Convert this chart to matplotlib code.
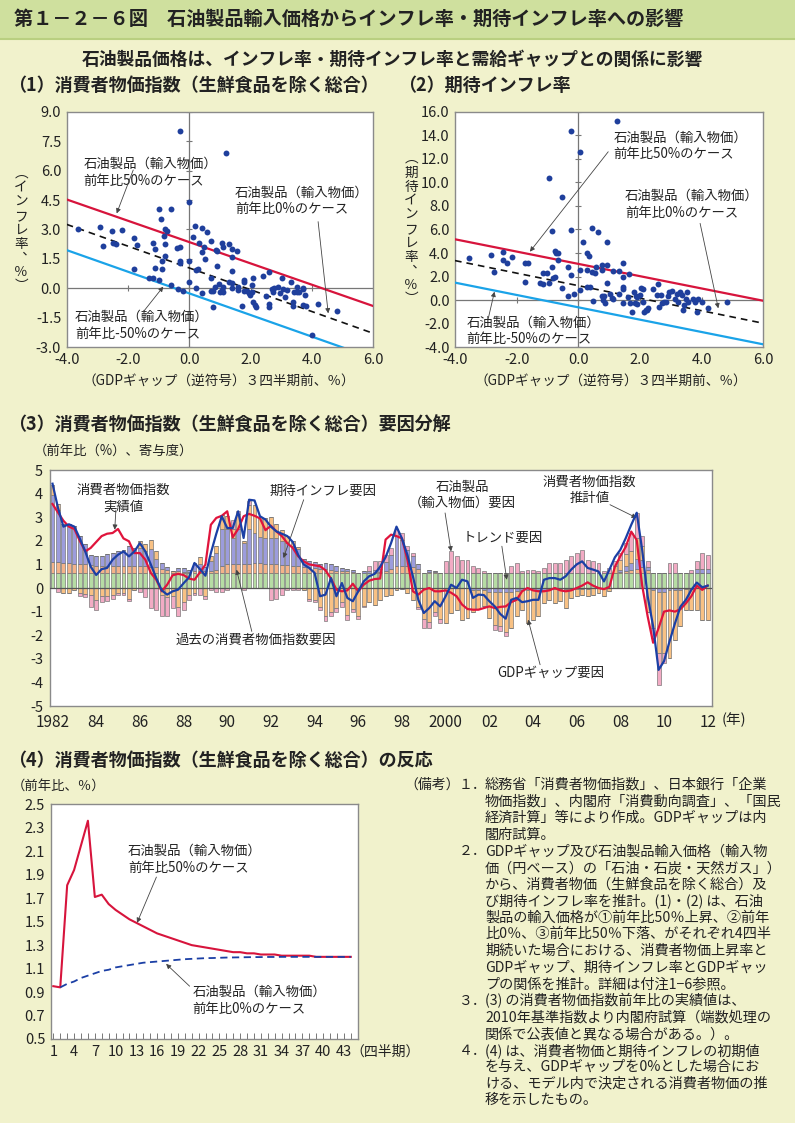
import matplotlib
matplotlib.use('Agg')
import matplotlib.pyplot as plt
import numpy as np
from matplotlib.patches import Rectangle
from matplotlib.lines import Line2D

plt.rcParams['font.family'] = ['Noto Sans CJK JP', 'DejaVu Sans']

# ---------------- DATA ----------------
# Panel 1: CPI inflation vs GDP gap (scatter)
p1_x = [-3.62, -2.91, -2.80, -2.51, -2.50, -2.40, -2.21, -1.80, -1.72, -1.80, -1.30, -1.20, -1.20, -1.11,
        -1.11, -1.00, -0.99, -0.91, -0.90, -0.89, -0.80, -0.82, -0.80, -0.80, -0.72, -0.61, -0.61, -0.41,
        -0.30, -0.30, -0.30, -0.30, -0.38, -0.21, 0.00, -0.01, 0.00, 0.11, 0.18, 0.21, 0.29, 0.21, 0.32,
        0.40, 0.41, 0.40, 0.48, 0.51, 0.59, 0.70, 0.70, 0.70, 0.78, 0.78, 0.86, 0.89, 0.89, 0.84, 0.97,
        1.00, 1.05, 1.08, 1.09, 1.09, 1.09, 1.20, 1.29, 1.30, 1.38, 1.38, 1.40, 1.40, 1.40, 1.57, 1.58,
        1.58, 1.71, 1.79, 1.79, 1.79, 1.87, 1.96, 1.98, 2.05, 2.09, 2.05, 2.09, 2.14, 2.17, 2.39, 2.49,
        2.60, 2.60, 2.60, 2.68, 2.72, 2.76, 2.90, 2.96, 3.01, 3.07, 3.12, 3.17, 3.32, 3.37, 3.39, 3.42,
        3.50, 3.50, 3.58, 3.70, 3.72, 3.72, 3.77, 3.80, 3.99, 4.21, 4.80]
p1_y = [3.01, 3.14, 2.16, 2.94, 2.33, 2.26, 2.97, 2.55, 2.21, 0.99, 0.51, 0.51, 2.33, 2.00,
        1.02, 4.04, 0.43, 3.52, 1.41, 1.00, 3.02, 2.67, 2.24, 1.65, 2.92, 4.03, 0.17, 2.04,
        2.12, 1.41, 1.27, 8.03, -0.05, -0.12, 4.42, 1.41, 0.31, 2.60, 3.19, 0.94, 0.97, 0.04, 2.33,
        3.09, 1.84, -0.25, 2.12, 1.50, 2.85, 2.43, 0.51, -0.13, -0.13, -0.97, 1.95, 1.16, 1.90, 0.05, 0.21,
        -0.17, -0.08, 2.29, 2.12, -0.20, 0.09, 6.88, 2.26, 0.34, 0.26, 0.00, 1.58, 0.88, 2.02, 1.90, 0.05,
        -0.08, -0.90, 0.43, 0.34, -0.13, -0.13, -0.25, -0.34, -0.17, 0.51, 0.17, -0.71, -0.85, -0.97, 0.63, -0.39,
        0.85, -0.80, -0.97, -0.05, -0.20, 0.04, 0.09, -0.25, 0.55, -0.05, -0.46, -0.08, 0.34, -0.71, -0.90, -0.17,
        0.09, -0.20, -0.20, -0.05, -0.85, 0.00, -0.34, -0.90, -2.38, -0.81, -1.15]
p1_line_x = [-4.0, 6.0]
p1_case50 = [4.53, -0.90]
p1_case0 = [3.26, -2.29]
p1_case_m50 = [1.95, -3.56]

# Panel 2: expected inflation vs GDP gap (scatter)
p2_x = [-3.55, -2.83, -2.74, -2.43, -2.43, -2.32, -2.14, -1.73, -1.62, -1.73, -1.24, -1.14, -1.14, -1.03,
        -0.95, -0.95, -0.86, -0.86, -0.83, -0.76, -0.76, -0.72, -0.67, -0.67, -0.54, -0.54, -0.35, -0.35,
        -0.24, -0.24, -0.24, -0.14, 0.05, 0.05, 0.05, 0.16, 0.27, 0.27, 0.27, 0.36, 0.38, 0.45, 0.45, 0.49,
        0.54, 0.56, 0.65, 0.76, 0.76, 0.76, 0.81, 0.84, 0.86, 0.94, 0.94, 0.94, 1.03, 1.08, 1.14, 1.14,
        1.24, 1.33, 1.32, 1.44, 1.44, 1.44, 1.44, 1.46, 1.62, 1.64, 1.68, 1.75, 1.82, 1.84, 1.86, 1.91,
        1.91, 2.00, 2.03, 2.11, 2.11, 2.14, 2.18, 2.24, 2.27, 2.41, 2.54, 2.59, 2.63, 2.67, 2.70, 2.78,
        2.86, 2.92, 2.95, 3.03, 3.14, 3.19, 3.24, 3.30, 3.35, 3.41, 3.44, 3.49, 3.54, 3.57, 3.73, 3.78,
        3.84, 3.89, 4.02, 4.22, 4.83]
p2_y = [3.55, 3.84, 2.42, 4.06, 3.41, 3.19, 3.64, 3.13, 3.13, 1.52, 1.43, 1.38, 2.34, 2.34,
        10.40, 1.43, 5.87, 2.79, 1.91, 4.20, 2.00, 3.98, 3.98, 3.41, 8.73, 1.00, 2.79, 0.36,
        14.39, 5.96, 2.14, 0.53, 12.55, 2.56, 0.87, 4.97, 3.98, 2.56, 1.15, 3.75, 1.15, 6.16, 2.36, -0.04,
        2.28, 2.85, 5.76, 2.99, 2.56, 0.38, 0.04, 0.38, -0.20, 4.97, 2.99, 1.43, 0.53, 0.22, 0.10, 2.48,
        15.24, 2.48, 0.53, 3.13, 2.00, 1.15, 0.92, -0.20, 0.30, 2.22, -0.20, -0.97, 0.67, -0.20, 0.36, 0.30,
        -0.35, 0.44, 1.07, 0.95, -0.12, -1.03, -0.83, -0.83, -0.69, 0.92, 0.44, 1.35, -0.55, 0.44, -0.20, -0.12,
        -0.12, 0.38, 0.67, 0.81, 0.10, 0.53, -0.12, 0.72, 0.44, -0.83, -0.41, 0.10, 0.72, -0.18, 0.10, -0.12,
        -0.97, 0.10, -0.18, -0.69, -0.12]
p2_line_x = [-4.0, 6.0]
p2_case50 = [5.17, -0.05]
p2_case0 = [3.36, -1.96]
p2_case_m50 = [1.49, -3.75]

# Panel 3: CPI factor decomposition, quarterly 1982Q1 - 2012Q1
year_labels = ['1982', '84', '86', '88', '90', '92', '94', '96', '98', '2000', '02', '04', '06', '08', '10', '12']
trend = [0.62, 0.62, 0.62, 0.62,  0.62, 0.62, 0.62, 0.62,  0.62, 0.62, 0.62, 0.62,  0.62, 0.62, 0.62, 0.62,
         0.62, 0.62, 0.62, 0.62,  0.62, 0.62, 0.62, 0.62,  0.62, 0.62, 0.62, 0.62,  0.62, 0.62, 0.62, 0.62,
         0.62, 0.62, 0.62, 0.62,  0.62, 0.62, 0.62, 0.62,  0.62, 0.62, 0.62, 0.62,  0.62, 0.62, 0.62, 0.62,
         0.62, 0.62, 0.62, 0.62,  0.62, 0.62, 0.62, 0.62,  0.62, 0.62, 0.62, 0.62,  0.62, 0.62, 0.62, 0.62,
         0.62, 0.62, 0.62, 0.62,  0.62, 0.62, 0.62, 0.62,  0.62, 0.62, 0.62, 0.62,  0.62, 0.62, 0.62, 0.62,
         0.62, 0.62, 0.62, 0.62,  0.62, 0.62, 0.62, 0.62,  0.62, 0.62, 0.62, 0.62,  0.62, 0.62, 0.62, 0.62,
         0.62, 0.62, 0.62, 0.62,  0.62, 0.62, 0.62, 0.62,  0.62, 0.62, 0.62, 0.62,  0.62, 0.62, 0.62, 0.62,
         0.62, 0.62, 0.62, 0.62,  0.62, 0.62, 0.62, 0.62,  0.62]
past_cpi = [0.50, 0.50, 0.45, 0.45,  0.40, 0.40, 0.38, 0.35,  0.30, 0.30, 0.30, 0.32,  0.32, 0.32, 0.32, 0.32,
            0.30, 0.30, 0.28, 0.25,  0.20, 0.15, 0.10, 0.08,  0.05, 0.06, 0.08, 0.08,  0.10, 0.10, 0.15, 0.30,
            0.40, 0.40, 0.40, 0.40,  0.40, 0.42, 0.42, 0.40,  0.40, 0.38, 0.36, 0.34,  0.32, 0.30, 0.28, 0.25,
            0.22, 0.20, 0.17, 0.15,  0.12, 0.10, 0.08, 0.06,  0.03, 0.03, 0.03, 0.05,  0.05, 0.10, 0.20, 0.30,
            0.30, 0.30, 0.25, 0.20,  0.02, 0.06, 0.05, 0.02,  0.00, 0.00, 0.00, 0.00,  0.00, 0.00, 0.00, 0.00,
            0.00, 0.00, 0.00, 0.00,  0.00, 0.00, 0.00, 0.00,  0.00, 0.00, 0.00, 0.00,  0.00, 0.00, 0.00, 0.00,
            0.00, 0.00, 0.00, 0.00,  0.00, 0.00, 0.00, 0.00,  0.05, 0.10, 0.15, 0.20,  0.25, 0.15, 0.00, 0.00,
            0.00, 0.00, 0.00, 0.00,  0.00, 0.00, 0.00, 0.00,  0.00]
expected = [2.80, 2.20, 1.63, 1.63,  1.60, 1.18, 0.85, 0.43,  0.43, 0.43, 0.53, 0.56,  0.61, 0.66, 0.86, 0.76,
            0.78, 0.63, 0.75, 0.38,  0.23, 0.13, 0.00, 0.15,  0.18, 0.10, 0.35, 0.30,  0.18, 0.43, 0.73, 1.60,
            1.50, 1.10, 1.50, 0.90,  1.50, 1.30, 1.10, 1.10,  1.10, 1.10, 1.00, 0.94,  0.86, 0.73, 0.35, 0.28,
            0.26, 0.18, 0.26, 0.23,  0.21, 0.13, 0.10, 0.10,  0.00, 0.05, 0.05, 0.10,  0.13, 0.38, 0.58, 1.30,
            1.10, 0.70, 0.50, 0.18,  0.00, 0.10, 0.03, 0.00,  0.00, 0.00, 0.00, 0.00,  0.00, -0.10, -0.10, -0.10,
            -0.15, -0.15, -0.15, -0.15,  -0.15, -0.12, -0.10, -0.10,  -0.10, -0.10, -0.08, -0.05,  -0.05, -0.05, -0.05, -0.05,
            -0.03, -0.03, -0.03, -0.02,  0.00, 0.00, 0.00, 0.00,  0.10, 0.20, 0.30, 0.40,  0.30, 0.10, -0.10, -0.15,
            -0.15, -0.10, -0.10, -0.10,  -0.05, -0.05, 0.20, 0.20,  0.20]
gdp_gap = [0.43, 0.23, -0.20, -0.20,  -0.10, -0.20, -0.25, -0.30,  -0.50, -0.35, -0.35, -0.30,  -0.20, -0.20, -0.45, -0.10,
           0.30, 0.30, 0.40, 0.30,  -0.30, -0.40, -0.35, -0.80,  -0.60, -0.30, -0.20, 0.30,  -0.35, 0.20, 0.30, 0.58,
           0.53, 0.38, 0.60, 0.08,  1.00, 1.16, 0.86, 0.83,  0.88, 0.60, 0.47, 0.30,  0.20, 0.10, -0.10, -0.45,
           -0.50, -0.80, -1.20, -1.00,  -0.85, -0.60, -1.15, -0.90,  -1.20, -0.75, -0.60, -0.70,  -0.50, -0.35, -0.30, -0.10,
           -0.05, -0.20, -0.50, -0.80,  -1.30, -1.45, -1.00, -1.30,  -1.48, -1.06, -0.92, -1.34,  -1.27, -0.90, -0.80, -0.68,
           -1.12, -1.40, -1.45, -1.70,  -1.55, -1.08, -0.85, -1.38,  -1.24, -1.10, -0.56, -0.45,  -0.60, -0.52, -0.80, -0.38,
           -0.32, -0.25, -0.30, -0.26,  -0.20, -0.35, -0.14, 0.30,  0.40, 0.50, 0.50, 0.90,  0.60, -1.00, -1.60, -2.60,
           -2.60, -2.87, -2.09, -1.52,  -0.87, -0.87, -0.95, -1.34,  -1.34]
oil = [0.00, -0.15, 0.00, 0.00,  0.00, -0.15, -0.15, -0.50,  -0.45, -0.25, -0.20, -0.15,  -0.10, -0.10, -0.10, 0.00,
       -0.15, -0.40, -0.85, -0.95,  -0.90, -0.80, -0.50, -0.40,  -0.35, -0.20, -0.10, -0.30,  -0.10, -0.10, -0.15, -0.15,
       -0.10, 0.40, 0.13, -0.10,  0.18, 0.00, 0.00, 0.00,  -0.50, -0.45, -0.30, -0.10,  -0.10, -0.10, 0.00, -0.10,
       -0.10, -0.15, -0.20, -0.20,  -0.15, -0.20, -0.20, -0.10,  -0.10, -0.05, 0.25, 0.38,  0.35, 0.30, 0.30, 0.28,
       0.30, 0.15, 0.13, -0.10,  -0.40, -0.25, -0.20, -0.18,  0.51, 0.93, 0.72, 0.58,  0.55, 0.30, 0.23, 0.08,
       0.00, -0.22, -0.24, -0.20,  0.30, 0.44, 0.08, 0.16,  0.16, 0.10, 0.23, 0.44,  0.44, 0.44, 0.58, 0.72,
       0.86, 0.98, 0.58, 0.51,  0.44, 0.08, 0.23, 0.21,  0.31, 0.48, 0.76, 1.06,  0.42, 0.26, -0.42, -1.35,
       -0.43, 0.44, 0.42, 0.00,  0.00, 0.13, 0.31, 0.66,  0.59]
cpi_actual = [3.56, 3.20, 2.85, 2.60,  2.50, 2.00, 1.55, 1.70,  1.95, 2.20, 2.30, 2.33,  2.50, 2.10, 1.98, 1.48,
              1.48, 1.20, 0.64, 0.35,  -0.14, 0.14, 0.54, 0.60,  0.55, 0.40, 0.35, 0.66,  0.99, 2.68, 2.97, 3.06,
              3.25, 2.15, 2.50, 3.04,  3.14, 3.06, 2.95, 2.45,  2.64, 2.40, 2.20, 1.90,  1.70, 1.34, 1.13, 1.00,
              0.96, 0.92, 0.75, 0.40,  -0.07, -0.14, -0.10, 0.18,  -0.14, 0.14, 0.31, 0.38,  0.40, 2.05, 2.26, 2.20,
              2.10, 1.20, -0.14, -0.28,  -0.07, 0.00, -0.14, -0.14,  -0.10, -0.20, -0.35, -0.70,  -0.89, -0.92, -0.92, -0.85,
              -0.78, -0.85, -0.80, -0.78,  -0.60, -0.50, -0.14, 0.00,  -0.10, -0.14, -0.14, -0.10,  0.00, -0.10, -0.14, -0.10,
              0.00, 0.10, 0.24, 0.10,  0.00, -0.05, 0.05, 0.90,  1.35, 1.75, 2.39, 2.03,  0.10, -1.20, -2.32, -1.70,
              -1.00, -0.95, -1.00, -0.90,  -0.65, -0.35, 0.10, -0.08,  0.10]
cpi_estimate = [4.42, 3.40, 2.60, 2.70,  2.60, 2.10, 1.55, 0.90,  0.55, 0.80, 0.85, 1.20,  1.41, 1.55, 1.34, 1.55,
                1.90, 1.55, 1.00, 0.42,  -0.10, -0.28, -0.14, -0.07,  0.20, 0.45, 1.06, 0.80,  0.52, 1.48, 2.30, 3.04,
                2.54, 2.54, 3.25, 2.12,  3.74, 3.71, 3.04, 2.90,  2.60, 2.40, 2.30, 2.20,  1.95, 1.40, 1.00, 0.85,
                0.64, -0.35, -0.28, 0.42,  -0.35, 0.21, -0.42, -0.56,  -0.14, 0.28, 0.50, 0.60,  0.90, 1.30, 1.90, 2.60,
                2.10, 1.40, 0.50, -0.50,  -1.06, -0.85, -0.56, -0.78,  -0.35, 0.14, 0.00, 0.35,  0.28, -0.42, -0.28, -0.30,
                -0.56, -0.78, -1.10, -1.30,  -0.50, -0.42, -0.60, -0.56,  -0.50, -0.50, 0.35, 0.42,  0.42, 0.35, 0.50, 0.78,
                1.00, 1.13, 0.85, 0.78,  0.70, 0.28, 0.78, 1.30,  1.62, 2.12, 2.68, 3.19,  1.61, -0.35, -1.62, -3.47,
                -3.10, -2.27, -1.50, -0.79,  -0.50, -0.08, 0.23, 0.03,  0.10]

# Panel 4: simulated CPI response (quarters 1..44)
p4_quarters = list(range(1, 45))
p4_case50 = [0.95, 0.94, 1.81, 1.94, 2.15, 2.36, 1.71, 1.73, 1.65, 1.60, 1.56, 1.52, 1.49, 1.46, 1.43,
             1.40, 1.38, 1.36, 1.34, 1.32, 1.30, 1.29, 1.28, 1.27, 1.26, 1.25, 1.24, 1.24, 1.23, 1.23,
             1.22, 1.22, 1.22, 1.21, 1.21, 1.21, 1.21, 1.21, 1.20, 1.20, 1.20, 1.20, 1.20, 1.20]
p4_case0_q = list(range(2, 45))
p4_case0 = [0.94, 0.97, 0.99, 1.02, 1.04, 1.06, 1.08, 1.09, 1.11, 1.12, 1.13, 1.14, 1.15, 1.155,
            1.16, 1.165, 1.17, 1.175, 1.18, 1.183, 1.186, 1.189, 1.19, 1.192, 1.194, 1.195, 1.196, 1.197,
            1.198, 1.198, 1.199, 1.199, 1.2, 1.2, 1.2, 1.2, 1.2, 1.2, 1.2, 1.2, 1.2, 1.2, 1.2]

notes = [
    ('（備考）', '１．', '総務省「消費者物価指数」、日本銀行「企業'),
    ('', '', '物価指数」、内閣府「消費動向調査」、「国民'),
    ('', '', '経済計算」等により作成。GDPギャップは内'),
    ('', '', '閣府試算。'),
    ('', '２．', 'GDPギャップ及び石油製品輸入価格（輸入物'),
    ('', '', '価（円ベース）の「石油・石炭・天然ガス」）'),
    ('', '', 'から、消費者物価（生鮮食品を除く総合）及'),
    ('', '', 'び期待インフレ率を推計。(1)・(2) は、石油'),
    ('', '', '製品の輸入価格が①前年比50％上昇、②前年'),
    ('', '', '比0％、③前年比50％下落、がそれぞれ4四半'),
    ('', '', '期続いた場合における、消費者物価上昇率と'),
    ('', '', 'GDPギャップ、期待インフレ率とGDPギャッ'),
    ('', '', 'プの関係を推計。詳細は付注1−6参照。'),
    ('', '３．', '(3) の消費者物価指数前年比の実績値は、'),
    ('', '', '2010年基準指数より内閣府試算（端数処理の'),
    ('', '', '関係で公表値と異なる場合がある。）。'),
    ('', '４．', '(4) は、消費者物価と期待インフレの初期値'),
    ('', '', 'を与え、GDPギャップを0%とした場合にお'),
    ('', '', 'ける、モデル内で決定される消費者物価の推'),
    ('', '', '移を示したもの。'),
]

# ---------------- STYLE ----------------
W, H = 795, 1123
BG = '#f1f2cc'
FRAME = '#8a8a8a'
TXT = '#222222'
fig = plt.figure(figsize=(W / 100, H / 100), dpi=100)
fig.patch.set_facecolor(BG)


def ax_px(l, t, r, b):
    return fig.add_axes([l / W, 1 - b / H, (r - l) / W, (b - t) / H])


def ftext(x, y, s, **kw):
    kw.setdefault('color', TXT)
    fig.text(x / W, 1 - y / H, s, **kw)


def style_frame(ax):
    ax.set_facecolor('white')
    for sp in ax.spines.values():
        sp.set_color(FRAME)
        sp.set_linewidth(1.0)


arrow_kw = dict(arrowstyle='-|>', color='#444444', lw=0.6, mutation_scale=7, shrinkA=0, shrinkB=0)

# title band
fig.patches.append(Rectangle((0, 1 - 39 / H), 1, 39 / H, transform=fig.transFigure,
                             facecolor='#cfe09e', edgecolor='none', zorder=0))
fig.add_artist(Line2D([0, 1], [1 - 39 / H, 1 - 39 / H], transform=fig.transFigure, color='#b9cf80', lw=1.5))
ftext(14, 19, '第１－２－６図　石油製品輸入価格からインフレ率・期待インフレ率への影響',
      fontsize=13.8, fontweight='bold', va='center', ha='left')
ftext(392, 60, '石油製品価格は、インフレ率・期待インフレ率と需給ギャップとの関係に影響',
      fontsize=12.8, fontweight='bold', va='center', ha='center')
ftext(8, 85, '（1）消費者物価指数（生鮮食品を除く総合）', fontsize=13.0, fontweight='bold', va='center')
ftext(398, 85, '（2）期待インフレ率', fontsize=13.0, fontweight='bold', va='center')

ann_fs = 9.6

# ---------------- PANEL 1 ----------------
ax1 = ax_px(66.7, 111.7, 373.3, 347.3)
style_frame(ax1)
ax1.set_xlim(-4, 6)
ax1.set_ylim(-3, 9)
yt1 = np.arange(-3, 9.01, 1.5)
ax1.set_yticks(yt1)
ax1.set_yticklabels(['%.1f' % v for v in yt1])
xt1 = np.arange(-4, 6.01, 2)
ax1.set_xticks(xt1)
ax1.set_xticklabels(['%.1f' % v for v in xt1])
ax1.tick_params(length=0, labelsize=10.5, pad=4, colors=TXT)
ax1.axhline(0, color='#777777', lw=0.9, zorder=1)
ax1.axvline(0, color='#777777', lw=0.9, zorder=1)
ax1.plot(xt1[1:-1], np.zeros(len(xt1) - 2), ls='none', marker='|', ms=5, color='#777777', mew=0.8)
ax1.plot(np.zeros(len(yt1)), yt1, ls='none', marker='_', ms=5, color='#777777', mew=0.8)
ax1.plot(p1_line_x, p1_case50, color='#d7143c', lw=1.6, zorder=3)
ax1.plot(p1_line_x, p1_case0, color='#111111', lw=1.2, ls=(0, (4, 3)), zorder=3)
ax1.plot(p1_line_x, p1_case_m50, color='#1aa3e8', lw=1.6, zorder=3)
ax1.scatter(p1_x, p1_y, s=18, color='#1f3f9c', zorder=4, linewidths=0)
ax1.text(-3.45, 6.7, '石油製品（輸入物価）\n前年比50%のケース', fontsize=ann_fs, va='top', ha='left',
         linespacing=1.25, color=TXT)
ax1.annotate('', xy=(-2.37, 3.82), xytext=(-1.83, 6.03), arrowprops=arrow_kw)
ax1.text(1.49, 5.25, '石油製品（輸入物価）\n前年比0%のケース', fontsize=ann_fs, va='top', ha='left',
         linespacing=1.25, color=TXT)
ax1.annotate('', xy=(4.53, -1.27), xytext=(4.2, 3.4), arrowprops=arrow_kw)
ax1.text(-3.73, -1.1, '石油製品（輸入物価）\n前年比-50%のケース', fontsize=ann_fs, va='top', ha='left',
         linespacing=1.25, color=TXT)
ax1.annotate('', xy=(-0.85, 0.09), xytext=(-1.5, -1.19), arrowprops=arrow_kw)

ftext(21, 230, '\n'.join('︵インフレ率︑％︶'), fontsize=9.8, ha='center', va='center', linespacing=1.0)
ftext(219, 381, '（GDPギャップ（逆符号）３四半期前、％）', fontsize=9.8, ha='center', va='center')

# ---------------- PANEL 2 ----------------
ax2 = ax_px(455, 111.7, 763.3, 347.3)
style_frame(ax2)
ax2.set_xlim(-4, 6)
ax2.set_ylim(-4, 16)
yt2 = np.arange(-4, 16.01, 2)
ax2.set_yticks(yt2)
ax2.set_yticklabels(['%.1f' % v for v in yt2])
ax2.set_xticks(xt1)
ax2.set_xticklabels(['%.1f' % v for v in xt1])
ax2.tick_params(length=0, labelsize=10.5, pad=4, colors=TXT)
ax2.axhline(0, color='#777777', lw=0.9, zorder=1)
ax2.axvline(0, color='#777777', lw=0.9, zorder=1)
ax2.plot(xt1[1:-1], np.zeros(len(xt1) - 2), ls='none', marker='|', ms=5, color='#777777', mew=0.8)
ax2.plot(np.zeros(len(yt2)), yt2, ls='none', marker='_', ms=5, color='#777777', mew=0.8)
ax2.plot(p2_line_x, p2_case50, color='#d7143c', lw=1.6, zorder=3)
ax2.plot(p2_line_x, p2_case0, color='#111111', lw=1.2, ls=(0, (4, 3)), zorder=3)
ax2.plot(p2_line_x, p2_case_m50, color='#1aa3e8', lw=1.6, zorder=3)
ax2.scatter(p2_x, p2_y, s=18, color='#1f3f9c', zorder=4, linewidths=0)
ax2.text(1.14, 14.4, '石油製品（輸入物価）\n前年比50%のケース', fontsize=ann_fs, va='top', ha='left',
         linespacing=1.25, color=TXT)
ax2.annotate('', xy=(-1.57, 4.12), xytext=(0.97, 12.6), arrowprops=arrow_kw)
ax2.text(1.51, 9.45, '石油製品（輸入物価）\n前年比0%のケース', fontsize=ann_fs, va='top', ha='left',
         linespacing=1.25, color=TXT)
ax2.annotate('', xy=(4.54, -0.69), xytext=(3.95, 6.52), arrowprops=arrow_kw)
ax2.text(-3.62, -1.3, '石油製品（輸入物価）\n前年比-50%のケース', fontsize=ann_fs, va='top', ha='left',
         linespacing=1.25, color=TXT)
ax2.annotate('', xy=(-2.72, 0.72), xytext=(-2.92, -1.54), arrowprops=arrow_kw)

ftext(411, 229, '\n'.join('︵期待インフレ率︑％︶'), fontsize=9.8, ha='center', va='center', linespacing=1.0)
ftext(611, 381, '（GDPギャップ（逆符号）３四半期前、％）', fontsize=9.8, ha='center', va='center')

# ---------------- PANEL 3 ----------------
ftext(8, 425, '（3）消費者物価指数（生鮮食品を除く総合）要因分解', fontsize=13.0, fontweight='bold', va='center')
ftext(34, 451, '（前年比（%）、寄与度）', fontsize=9.6, va='center')
ax3 = ax_px(50, 470, 711.7, 706)
style_frame(ax3)
nq = len(cpi_actual)
qx = np.arange(nq)
ax3.set_xlim(-0.46, 120.73)
ax3.set_ylim(-5, 5)
ax3.set_yticks(np.arange(-5, 5.1, 1))
ax3.set_yticklabels(['%d' % v for v in np.arange(-5, 5.1, 1)])
ax3.set_xticks(np.arange(0, nq, 8))
ax3.set_xticklabels(year_labels)
ax3.tick_params(axis='y', length=0, labelsize=10.5, pad=5, colors=TXT)
ax3.tick_params(axis='x', length=0, labelsize=11, pad=6, colors=TXT)

components = [trend, past_cpi, expected, gdp_gap, oil]
comp_colors = ['#b6dca4', '#f4b389', '#9c9cdc', '#f8c184', '#f2abc4']
pos_base = np.zeros(nq)
neg_base = np.zeros(nq)
for comp, col in zip(components, comp_colors):
    v = np.array(comp)
    pv = np.where(v > 0, v, 0)
    nv = np.where(v < 0, v, 0)
    ax3.bar(qx, pv, bottom=pos_base, width=0.72, color=col, edgecolor='#6f6f6f', linewidth=0.45, zorder=2)
    ax3.bar(qx, nv, bottom=neg_base, width=0.72, color=col, edgecolor='#6f6f6f', linewidth=0.45, zorder=2)
    pos_base += pv
    neg_base += nv
ax3.axhline(0, color='#555555', lw=0.9, zorder=3)
ax3.plot(qx, cpi_actual, color='#e0143c', lw=1.6, zorder=4)
ax3.plot(qx, cpi_estimate, color='#1b3fa5', lw=1.6, zorder=5)

ax3.text(13, 4.45, '消費者物価指数\n実績値', fontsize=ann_fs, ha='center', va='top', linespacing=1.2, color=TXT)
ax3.annotate('', xy=(11.4, 2.47), xytext=(11.6, 3.3), arrowprops=arrow_kw)
ax3.text(49.5, 4.1, '期待インフレ要因', fontsize=ann_fs, ha='center', va='center', color=TXT)
ax3.annotate('', xy=(42.3, 1.27), xytext=(46.0, 3.74), arrowprops=arrow_kw)
ax3.text(37.2, -2.19, '過去の消費者物価指数要因', fontsize=ann_fs, ha='center', va='center', color=TXT)
ax3.annotate('', xy=(33.7, 0.78), xytext=(36.5, -1.84), arrowprops=arrow_kw)
ax3.text(75, 4.6, '石油製品\n（輸入物価）要因', fontsize=ann_fs, ha='center', va='top', linespacing=1.2, color=TXT)
ax3.annotate('', xy=(73.0, 1.55), xytext=(71.9, 3.18), arrowprops=arrow_kw)
ax3.text(82.5, 2.12, 'トレンド要因', fontsize=ann_fs, ha='center', va='center', color=TXT)
ax3.annotate('', xy=(83.2, 0.35), xytext=(82.3, 1.77), arrowprops=arrow_kw)
ax3.text(98.4, 4.8, '消費者物価指数\n推計値', fontsize=ann_fs, ha='center', va='top', linespacing=1.2, color=TXT)
ax3.annotate('', xy=(107.0, 2.97), xytext=(102.1, 3.53), arrowprops=arrow_kw)
ax3.text(91.3, -3.6, 'GDPギャップ要因', fontsize=ann_fs, ha='center', va='center', color=TXT)
ax3.annotate('', xy=(87.1, -1.34), xytext=(89.3, -3.25), arrowprops=arrow_kw)
ftext(722, 720, '(年)', fontsize=10.5, ha='left', va='center')

# ---------------- PANEL 4 ----------------
ftext(8, 760, '（4）消費者物価指数（生鮮食品を除く総合）の反応', fontsize=13.0, fontweight='bold', va='center')
ftext(12, 786, '（前年比、％）', fontsize=9.6, va='center')
ax4 = ax_px(50.7, 804.3, 357.7, 1039)
style_frame(ax4)
ax4.set_xlim(0.62, 44.8)
ax4.set_ylim(0.5, 2.5)
yt4 = np.arange(0.5, 2.51, 0.2)
ax4.set_yticks(yt4)
ax4.set_yticklabels(['%.1f' % v for v in yt4])
ax4.set_xticks(np.arange(1, 45, 3))
ax4.set_xticklabels(['%d' % v for v in np.arange(1, 45, 3)])
ax4.set_xticks(np.arange(1, 46, 1), minor=True)
ax4.tick_params(axis='y', length=0, labelsize=10.5, pad=4, colors=TXT)
ax4.tick_params(axis='x', which='both', direction='in', length=4, width=0.7, color='#777777',
                labelsize=10.5, pad=4, colors=TXT)
ax4.tick_params(axis='x', which='major', labelcolor=TXT)
ax4.plot(p4_quarters, p4_case50, color='#d7143c', lw=1.5, zorder=3)
ax4.plot(p4_case0_q, p4_case0, color='#1b3fa5', lw=1.3, ls=(0, (4, 2.5)), zorder=3)
ax4.text(11.8, 2.16, '石油製品（輸入物価）\n前年比50%のケース', fontsize=ann_fs, ha='left', va='top',
         linespacing=1.25, color=TXT)
ax4.annotate('', xy=(13.1, 1.49), xytext=(15.9, 1.88), arrowprops=arrow_kw)
ax4.text(21.1, 0.96, '石油製品（輸入物価）\n前年比0%のケース', fontsize=ann_fs, ha='left', va='top',
         linespacing=1.25, color=TXT)
ax4.annotate('', xy=(17.3, 1.14), xytext=(20.7, 0.95), arrowprops=arrow_kw)
ftext(350, 1052, '（四半期）', fontsize=10.0, ha='left', va='center')

# ---------------- NOTES ----------------
for i, (head, num, line) in enumerate(notes):
    y = 785 + 16.6 * i
    if head:
        ftext(404, y, head, fontsize=10.0, va='center')
    if num:
        ftext(459, y, num, fontsize=10.0, va='center')
    ftext(485, y, line, fontsize=10.2, va='center')

fig.savefig('out.png', dpi=100, facecolor=BG)
